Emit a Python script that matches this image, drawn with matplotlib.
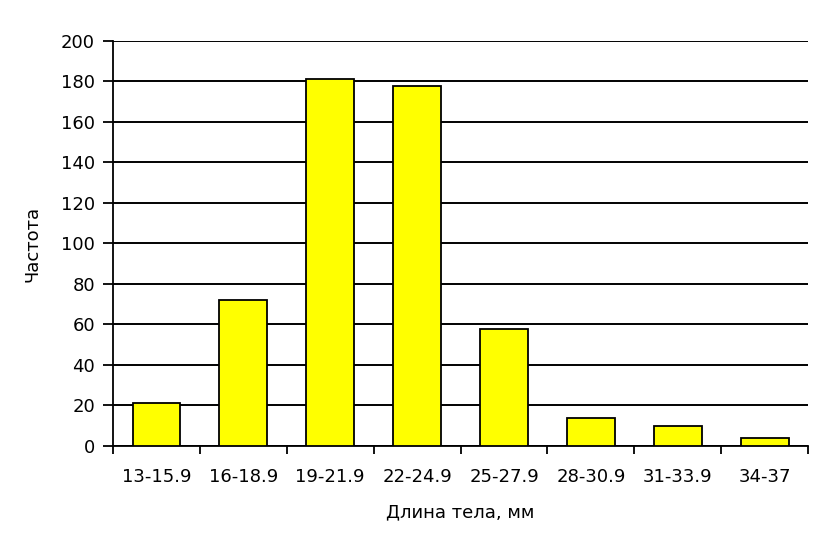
import matplotlib
matplotlib.use("Agg")
import matplotlib.pyplot as plt
import numpy as np

categories = ["13-15.9", "16-18.9", "19-21.9", "22-24.9", "25-27.9", "28-30.9", "31-33.9", "34-37"]
counts = [21, 72, 181, 178, 58, 14, 10, 4]

plt.rcParams['font.family'] = ['DejaVu Sans']

fig = plt.figure(figsize=(8.34, 5.51), dpi=100)
ax = fig.add_axes([0.1355, 0.1906, 0.969 - 0.1355, 0.9256 - 0.1906])

x = np.arange(len(categories))
ax.bar(x, counts, width=0.55, color="#ffff00", edgecolor="black", linewidth=1.3, zorder=3)

ax.set_xlim(-0.5, len(categories) - 0.5)
ax.set_ylim(0, 200)
ax.set_yticks(range(0, 201, 20))
ax.yaxis.grid(True, color="black", linewidth=1.4, zorder=0)
ax.set_axisbelow(True)

# category labels centered, ticks at boundaries
ax.set_xticks(x)
ax.set_xticklabels(categories, fontsize=13)
ax.tick_params(axis='x', which='major', length=0, pad=16)
ax.set_xticks(np.arange(-0.5, len(categories)), minor=True)
ax.tick_params(axis='x', which='minor', length=6, width=1.3, direction='out')
ax.tick_params(axis='y', length=7, width=1.3, labelsize=13, pad=6)

for side in ["top", "right"]:
    ax.spines[side].set_visible(False)
for side in ["left", "bottom"]:
    ax.spines[side].set_linewidth(1.3)

ax.set_xlabel("Длина тела, мм", fontsize=13, labelpad=12)
ax.set_ylabel("Частота", fontsize=13, labelpad=14)

fig.savefig("out.png", dpi=100)
